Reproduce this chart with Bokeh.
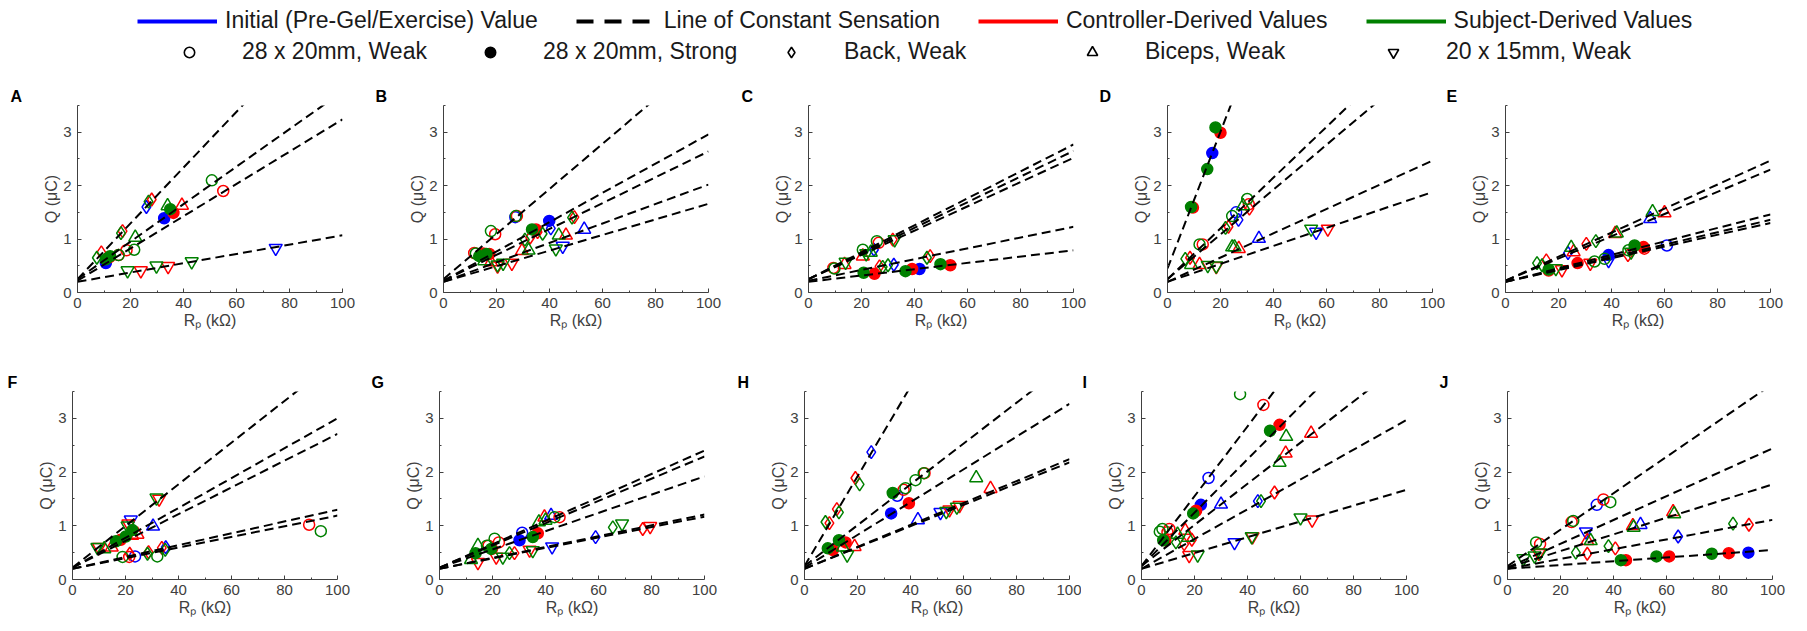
from bokeh.plotting import figure
from bokeh.models import ColumnDataSource, Range1d, FixedTicker, Legend, LegendItem
from bokeh.layouts import column, row
from bokeh.embed import file_html
from bokeh.resources import INLINE

# ---------------- data ----------------
LINE_LABELS = ["Initial (Pre-Gel/Exercise) Value", "Line of Constant Sensation",
               "Controller-Derived Values", "Subject-Derived Values"]
MARKER_LABELS = ["28 x 20mm, Weak", "28 x 20mm, Strong", "Back, Weak", "Biceps, Weak", "20 x 15mm, Weak"]
X_TICKS = [0, 20, 40, 60, 80, 100]
Y_TICKS = [0, 1, 2, 3]
PANELS = ["A", "B", "C", "D", "E", "F", "G", "H", "I", "J"]

# lines of constant sensation: Q at Rp=0 and Q at Rp=100
A_q0 = [0.25, 0.25, 0.22, 0.20]
A_q100 = [5.47, 3.76, 3.24, 1.07]
B_q0 = [0.25, 0.22, 0.22, 0.20, 0.20]
B_q100 = [4.47, 2.96, 2.64, 2.02, 1.66]
C_q0 = [0.25, 0.25, 0.25, 0.22, 0.20]
C_q100 = [2.77, 2.65, 2.52, 1.23, 0.79]
D_q0 = [0.45, 0.25, 0.25, 0.20, 0.20]
D_q100 = [13.25, 5.00, 4.44, 2.47, 1.88]
E_q0 = [0.22, 0.22, 0.20, 0.20, 0.20]
E_q100 = [2.47, 2.30, 1.46, 1.36, 1.30]
F_q0 = [0.22, 0.22, 0.22, 0.20, 0.20]
F_q100 = [4.10, 3.00, 2.71, 1.30, 1.19]
G_q0 = [0.22, 0.22, 0.22, 0.20, 0.20]
G_q100 = [2.40, 2.29, 1.92, 1.21, 1.17]
H_q0 = [0.25, 0.25, 0.22, 0.20, 0.20]
H_q100 = [8.60, 4.05, 3.27, 2.24, 2.18]
I_q0 = [0.25, 0.25, 0.25, 0.20, 0.20]
I_q100 = [6.75, 5.22, 4.08, 2.97, 1.67]
J_q0 = [0.25, 0.22, 0.22, 0.20, 0.20]
J_q100 = [3.64, 2.44, 1.77, 1.11, 0.55]

# points: (electrode code, Rp kOhm, Q uC)
# o = 28x20 weak, f = 28x20 strong, d = back weak, ^ = biceps weak, v = 20x15 weak
A_init = [("d", 26.0, 1.60), ("f", 32.7, 1.39), ("f", 10.7, 0.55), ("v", 74.8, 0.83)]
A_ctrl = [("d", 28.0, 1.74), ("d", 17.0, 1.15), ("d", 9.0, 0.75), ("f", 36.2, 1.49), ("^", 39.4, 1.63),
          ("o", 55.0, 1.90), ("o", 18.5, 0.79), ("o", 15.5, 0.70), ("f", 12.0, 0.66), ("v", 23.9, 0.41),
          ("v", 34.2, 0.49)]
A_subj = [("d", 26.8, 1.70), ("d", 16.4, 1.11), ("d", 7.3, 0.65), ("f", 35.0, 1.56), ("^", 34.0, 1.62),
          ("^", 21.8, 1.03), ("o", 50.7, 2.10), ("o", 21.4, 0.80), ("o", 15.5, 0.70), ("f", 10.7, 0.62),
          ("f", 12.3, 0.68), ("v", 18.9, 0.41), ("v", 29.8, 0.50), ("v", 43.1, 0.58)]

B_init = [("o", 27.1, 1.41), ("f", 39.9, 1.34), ("d", 40.5, 1.20), ("^", 53.1, 1.18), ("v", 45.0, 0.87)]
B_ctrl = [("o", 27.7, 1.43), ("o", 19.5, 1.09), ("o", 11.6, 0.74), ("f", 15.0, 0.73), ("f", 17.3, 0.72),
          ("f", 34.9, 1.18), ("d", 35.5, 1.13), ("d", 32.7, 1.03), ("d", 49.4, 1.41), ("^", 46.2, 1.07),
          ("^", 29.6, 0.78), ("^", 17.9, 0.57), ("v", 25.8, 0.55), ("v", 20.4, 0.50)]
B_subj = [("o", 27.3, 1.43), ("o", 17.9, 1.15), ("o", 12.2, 0.73), ("f", 13.5, 0.68), ("f", 16.2, 0.72),
          ("f", 33.4, 1.18), ("d", 30.7, 0.99), ("d", 37.4, 1.10), ("d", 48.5, 1.40), ("^", 43.5, 1.07),
          ("^", 32.1, 0.79), ("^", 15.4, 0.59), ("v", 42.4, 0.82), ("v", 22.5, 0.55), ("v", 20.4, 0.52)]

C_init = [("d", 24.7, 0.80), ("f", 41.9, 0.44), ("d", 32.2, 0.52)]
C_ctrl = [("o", 9.4, 0.46), ("^", 13.6, 0.52), ("^", 20.5, 0.68), ("o", 26.5, 0.93), ("d", 31.8, 0.99),
          ("f", 24.9, 0.35), ("f", 39.1, 0.44), ("f", 53.5, 0.51), ("d", 26.8, 0.49), ("d", 45.9, 0.68)]
C_subj = [("o", 9.8, 0.45), ("v", 14.0, 0.57), ("o", 20.5, 0.80), ("v", 21.8, 0.73), ("^", 23.5, 0.75),
          ("o", 25.8, 0.96), ("v", 32.5, 0.99), ("f", 20.8, 0.37), ("f", 36.6, 0.40), ("f", 49.8, 0.53),
          ("d", 28.0, 0.48), ("d", 30.0, 0.51), ("d", 44.7, 0.65)]

D_init = [("f", 16.9, 2.61), ("o", 25.9, 1.50), ("d", 26.8, 1.36), ("^", 34.5, 1.01), ("v", 56.1, 1.13)]
D_ctrl = [("f", 20.0, 2.99), ("f", 9.6, 1.59), ("o", 30.7, 1.65), ("d", 30.9, 1.57), ("d", 23.0, 1.23),
          ("o", 13.3, 0.90), ("d", 8.5, 0.65), ("^", 12.1, 0.52), ("v", 18.4, 0.49), ("^", 26.9, 0.82),
          ("v", 60.5, 1.19)]
D_subj = [("f", 18.1, 3.09), ("f", 15.0, 2.31), ("f", 8.9, 1.60), ("o", 30.1, 1.75), ("^", 28.5, 1.62),
          ("o", 24.4, 1.43), ("d", 21.9, 1.21), ("o", 12.1, 0.90), ("d", 6.7, 0.63), ("^", 8.9, 0.52),
          ("v", 15.2, 0.51), ("v", 18.4, 0.50), ("^", 24.4, 0.85), ("^", 25.3, 0.85), ("v", 54.2, 1.19)]

E_init = [("^", 54.6, 1.38), ("d", 23.6, 0.74), ("f", 38.9, 0.70), ("v", 38.9, 0.60), ("o", 60.9, 0.88)]
E_ctrl = [("^", 60.0, 1.49), ("^", 41.4, 1.10), ("d", 30.5, 0.91), ("^", 25.7, 0.76), ("d", 15.4, 0.60),
          ("v", 21.3, 0.43), ("o", 16.3, 0.41), ("f", 27.2, 0.55), ("v", 32.0, 0.55), ("f", 52.1, 0.85),
          ("o", 52.4, 0.82), ("d", 46.2, 0.70)]
E_subj = [("^", 55.5, 1.51), ("^", 42.0, 1.11), ("d", 34.1, 0.96), ("^", 24.8, 0.84), ("d", 11.9, 0.55),
          ("d", 13.8, 0.51), ("f", 16.3, 0.43), ("v", 19.0, 0.45), ("o", 33.6, 0.58), ("o", 37.4, 0.63),
          ("f", 48.7, 0.88), ("o", 46.4, 0.79), ("v", 47.4, 0.76)]

F_init = [("v", 22.0, 1.11), ("^", 30.4, 0.99), ("o", 23.6, 0.43), ("d", 35.2, 0.60)]
F_ctrl = [("v", 32.7, 1.50), ("v", 21.1, 1.04), ("v", 10.0, 0.60), ("^", 14.8, 0.60), ("f", 18.2, 0.74),
          ("^", 22.5, 0.82), ("^", 24.5, 0.84), ("o", 89.3, 1.02), ("o", 21.4, 0.42), ("d", 28.7, 0.51),
          ("d", 33.7, 0.59), ("d", 21.6, 0.48)]
F_subj = [("v", 31.7, 1.52), ("v", 20.8, 1.00), ("v", 9.4, 0.60), ("^", 12.0, 0.57), ("f", 16.4, 0.71),
          ("f", 20.1, 0.80), ("f", 22.6, 0.92), ("o", 93.7, 0.90), ("o", 18.9, 0.42), ("o", 32.0, 0.43),
          ("d", 28.3, 0.48), ("d", 35.0, 0.55)]

G_init = [("^", 42.1, 1.19), ("o", 31.2, 0.87), ("f", 30.2, 0.73), ("v", 42.5, 0.61), ("d", 58.9, 0.79)]
G_ctrl = [("^", 39.6, 1.16), ("o", 45.3, 1.16), ("f", 37.1, 0.86), ("o", 22.4, 0.69), ("f", 19.8, 0.57),
          ("v", 14.5, 0.32), ("v", 21.4, 0.42), ("d", 28.3, 0.49), ("v", 34.0, 0.55), ("d", 76.7, 0.94),
          ("v", 79.5, 0.99), ("o", 18.5, 0.63)]
G_subj = [("^", 40.0, 1.10), ("^", 37.5, 1.07), ("o", 43.4, 1.16), ("f", 35.2, 0.79), ("o", 20.8, 0.76),
          ("o", 17.9, 0.63), ("f", 13.6, 0.49), ("f", 19.5, 0.57), ("^", 14.5, 0.63), ("^", 11.9, 0.37),
          ("v", 23.9, 0.42), ("d", 26.4, 0.49), ("v", 35.2, 0.54), ("d", 65.4, 0.97), ("v", 68.9, 1.04)]

H_init = [("d", 25.2, 2.37), ("o", 35.0, 1.56), ("f", 32.7, 1.23), ("^", 42.8, 1.11), ("v", 51.3, 1.25)]
H_ctrl = [("d", 19.2, 1.89), ("d", 12.2, 1.31), ("d", 9.4, 1.05), ("o", 37.4, 1.67), ("o", 45.3, 1.98),
          ("f", 39.4, 1.42), ("f", 10.7, 0.55), ("f", 15.5, 0.69), ("^", 18.9, 0.61), ("v", 54.7, 1.30),
          ("v", 58.5, 1.38), ("^", 70.2, 1.69)]
H_subj = [("d", 20.8, 1.77), ("d", 13.0, 1.25), ("d", 7.9, 1.07), ("f", 33.3, 1.61), ("o", 38.1, 1.70),
          ("o", 41.9, 1.85), ("o", 45.0, 1.98), ("f", 8.8, 0.58), ("f", 13.0, 0.73), ("v", 16.1, 0.46),
          ("^", 14.5, 0.60), ("v", 53.5, 1.27), ("v", 57.5, 1.35), ("^", 64.8, 1.89)]

I_init = [("o", 25.3, 1.89), ("f", 22.4, 1.39), ("^", 30.0, 1.40), ("d", 43.9, 1.46), ("v", 35.1, 0.69)]
I_ctrl = [("o", 46.0, 3.25), ("f", 52.1, 2.88), ("^", 64.0, 2.72), ("^", 54.4, 2.35), ("f", 20.6, 1.28),
          ("d", 50.2, 1.62), ("v", 64.4, 1.11), ("v", 41.9, 0.80), ("v", 18.0, 0.45), ("o", 10.5, 0.94),
          ("o", 9.8, 0.88), ("f", 9.0, 0.73), ("^", 16.5, 0.91), ("d", 16.1, 0.66), ("d", 19.0, 0.74)]
I_subj = [("o", 37.2, 3.45), ("f", 48.5, 2.77), ("^", 54.6, 2.66), ("^", 52.1, 2.18), ("f", 19.5, 1.23),
          ("d", 45.1, 1.46), ("v", 60.0, 1.15), ("v", 41.6, 0.80), ("v", 21.2, 0.46), ("o", 6.9, 0.89),
          ("o", 7.9, 0.94), ("f", 8.2, 0.73), ("^", 13.6, 0.84), ("d", 13.0, 0.69), ("^", 17.5, 0.78)]

J_init = [("o", 33.7, 1.39), ("v", 29.6, 0.89), ("^", 50.2, 1.02), ("d", 64.4, 0.80), ("f", 90.9, 0.50)]
J_ctrl = [("o", 36.2, 1.49), ("o", 24.2, 1.07), ("o", 12.3, 0.66), ("v", 11.8, 0.49), ("^", 30.1, 0.72),
          ("d", 30.1, 0.48), ("^", 47.3, 1.00), ("^", 62.5, 1.26), ("d", 40.7, 0.58), ("d", 91.1, 1.02),
          ("f", 44.7, 0.36), ("f", 61.0, 0.43), ("f", 83.5, 0.49)]
J_subj = [("o", 38.8, 1.44), ("o", 24.8, 1.09), ("o", 10.8, 0.69), ("v", 6.0, 0.39), ("v", 10.2, 0.44),
          ("v", 12.3, 0.50), ("^", 31.4, 0.72), ("d", 25.8, 0.50), ("^", 47.6, 0.97), ("^", 62.9, 1.22),
          ("d", 38.1, 0.62), ("d", 85.1, 1.04), ("f", 42.8, 0.36), ("f", 56.2, 0.43), ("f", 77.1, 0.48)]

# ---------------- style ----------------
C_INIT, C_CTRL, C_SUBJ = "#0000FF", "#FF0000", "#008000"
FONT = "Liberation Sans"
AX_COL = "#404040"
MARKER = {"o": "circle", "f": "circle", "d": "diamond", "^": "triangle", "v": "inverted_triangle"}
SIZE = {"o": 11, "f": 11, "d": 13, "^": 13, "v": 13}

DATA = {
    "A": (A_q0, A_q100, A_init, A_ctrl, A_subj), "B": (B_q0, B_q100, B_init, B_ctrl, B_subj),
    "C": (C_q0, C_q100, C_init, C_ctrl, C_subj), "D": (D_q0, D_q100, D_init, D_ctrl, D_subj),
    "E": (E_q0, E_q100, E_init, E_ctrl, E_subj), "F": (F_q0, F_q100, F_init, F_ctrl, F_subj),
    "G": (G_q0, G_q100, G_init, G_ctrl, G_subj), "H": (H_q0, H_q100, H_init, H_ctrl, H_subj),
    "I": (I_q0, I_q100, I_init, I_ctrl, I_subj), "J": (J_q0, J_q100, J_init, J_ctrl, J_subj),
}
# layout: (width, border_left, border_right, title_offset)
TOP_GEOM = [(371, 77, 29, -67), (365, 72, 28, -68), (359, 72, 22, -67), (350, 72, 13, -68), (346, 60, 21, -59)]
BOT_GEOM = [(367, 72, 30, -65), (365, 72, 28, -68), (349, 72, 12, -67), (356, 60, 31, -59), (354, 70, 19, -68)]


def add_series(p, pts, color):
    src = ColumnDataSource(dict(
        x=[t[1] for t in pts], y=[t[2] for t in pts],
        marker=[MARKER[t[0]] for t in pts],
        size=[SIZE[t[0]] for t in pts],
        falpha=[1.0 if t[0] == "f" else 0.0 for t in pts]))
    p.scatter("x", "y", source=src, marker="marker", size="size", line_color=color,
              fill_color=color, fill_alpha="falpha", line_width=1.5)


def make_panel(letter, geom, height, btop, bbot):
    width, bl, br, toff = geom
    q0, q100, init, ctrl, subj = DATA[letter]
    p = figure(width=width, height=height, x_range=Range1d(0, 100), y_range=Range1d(0, 3.5),
               output_backend="svg", toolbar_location=None, title=letter,
               min_border_left=bl, min_border_right=br, min_border_top=btop, min_border_bottom=bbot)
    p.outline_line_color = None
    p.grid.visible = False
    p.title.align = "left"
    p.title.offset = toff
    p.title.text_font = FONT
    p.title.text_font_size = "16px"
    p.title.text_font_style = "bold"
    p.title.text_color = "black"
    p.title.standoff = 1

    add_series(p, init, C_INIT)
    add_series(p, ctrl, C_CTRL)
    add_series(p, subj, C_SUBJ)
    n = len(q0)
    lsrc = ColumnDataSource(dict(x0=[X_TICKS[0]] * n, y0=q0, x1=[X_TICKS[-1]] * n, y1=q100))
    p.segment("x0", "y0", "x1", "y1", source=lsrc, line_color="black", line_width=2, line_dash="9 5")

    p.xaxis.ticker = FixedTicker(ticks=X_TICKS, minor_ticks=[10, 30, 50, 70, 90])
    p.yaxis.ticker = FixedTicker(ticks=Y_TICKS, minor_ticks=[0.5, 1.5, 2.5, 3.5])
    p.xaxis.axis_label = "R\u209a (k\u03a9)"
    p.yaxis.axis_label = "Q (\u03bcC)"
    for ax in (p.xaxis, p.yaxis):
        ax.axis_line_color = AX_COL
        ax.major_tick_line_color = AX_COL
        ax.minor_tick_line_color = AX_COL
        ax.major_tick_in = 4
        ax.major_tick_out = 0
        ax.minor_tick_in = 2
        ax.minor_tick_out = 0
        ax.major_label_text_font = FONT
        ax.major_label_text_font_size = "15px"
        ax.major_label_text_color = AX_COL
        ax.axis_label_text_font = FONT
        ax.axis_label_text_font_size = "16px"
        ax.axis_label_text_font_style = "normal"
        ax.axis_label_text_color = AX_COL
    p.xaxis.major_label_standoff = 5
    p.xaxis.axis_label_standoff = 1
    p.yaxis.major_label_standoff = 6
    p.yaxis.axis_label_standoff = 0
    return p


# ---------------- legend ----------------
leg = figure(width=1791, height=80, x_range=(0, 1), y_range=(0, 1), x_axis_type=None, y_axis_type=None,
             output_backend="svg", toolbar_location=None, min_border=0)
leg.outline_line_color = None
off = ColumnDataSource(dict(x=[-10, -9], y=[-10, -9]))   # outside the view: only the legend shows them
r_lines = [
    leg.line("x", "y", source=off, line_color=C_INIT, line_width=4),
    leg.line("x", "y", source=off, line_color="black", line_width=4, line_dash="17 11"),
    leg.line("x", "y", source=off, line_color=C_CTRL, line_width=4),
    leg.line("x", "y", source=off, line_color=C_SUBJ, line_width=4),
]
r_marks = [
    leg.scatter("x", "y", source=off, marker="circle", size=13, line_color="black", fill_color=None, line_width=1.6),
    leg.scatter("x", "y", source=off, marker="circle", size=13, line_color="black", fill_color="black", line_width=1.6),
    leg.scatter("x", "y", source=off, marker="diamond", size=18, line_color="black", fill_color=None, line_width=1.6),
    leg.scatter("x", "y", source=off, marker="triangle", size=16, line_color="black", fill_color=None, line_width=1.6),
    leg.scatter("x", "y", source=off, marker="inverted_triangle", size=16, line_color="black", fill_color=None, line_width=1.6),
]
common = dict(orientation="horizontal", padding=0, margin=0, border_line_color=None,
              background_fill_alpha=0, label_text_font=FONT, label_text_font_size="23px",
              label_text_color="#1a1a1a", glyph_height=26, label_height=26)
legend1 = Legend(items=[LegendItem(label=l, renderers=[r]) for l, r in zip(LINE_LABELS, r_lines)],
                 location=(137, 46), glyph_width=80, label_standoff=8, spacing=38, **common)
legend2 = Legend(items=[LegendItem(label=l, renderers=[r]) for l, r in zip(MARKER_LABELS, r_marks)],
                 location=(169, 15), glyph_width=40, label_standoff=33, label_width=200, spacing=28, **common)
leg.add_layout(legend1)
leg.add_layout(legend2)

top = [make_panel(l, g, 286, 25, 74) for l, g in zip(PANELS[:5], TOP_GEOM)]
bot = [make_panel(l, g, 255, 25, 42) for l, g in zip(PANELS[5:], BOT_GEOM)]

layout = column(leg, row(*top, spacing=0), row(*bot, spacing=0), spacing=0)
open("out.html", "w").write(file_html(layout, INLINE))
